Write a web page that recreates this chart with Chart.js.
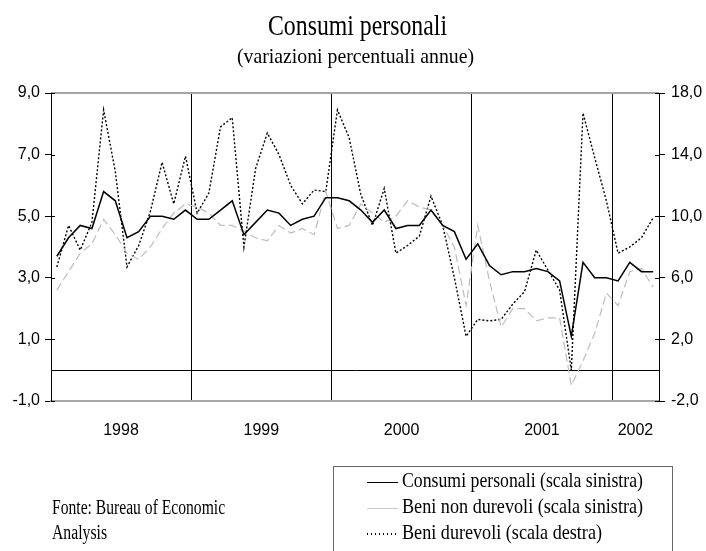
<!DOCTYPE html>
<html lang="it">
<head>
<meta charset="UTF-8">
<title>Consumi personali</title>
<script src="https://cdn.jsdelivr.net/npm/chart.js"></script>
<style>
    body { margin: 0; background: #fff; }
    #wrap { position: relative; width: 706px; height: 551px; overflow: hidden; background: #fff; }
    #grafico { position: absolute; left: 0; top: 0; }
    .txt {
        position: absolute;
        display: inline-block;
        font-family: 'Liberation Serif', 'Times New Roman', serif;
        color: #000;
        white-space: nowrap;
        transform-origin: 0 0;
    }
    #legenda {
        position: absolute; left: 333px; top: 466px; width: 340px; height: 100px;
        border: 1px solid #666; box-sizing: border-box;
    }
    .campione { position: absolute; left: 367px; width: 31px; }
</style>
</head>
<body>
<div id="wrap">
    <canvas id="grafico" width="706" height="551"></canvas>

    <span class="txt fit" data-x="268" data-y="10.7" data-w="179" style="font-size:29px;line-height:29px">Consumi personali</span>
    <span class="txt fit" data-x="237" data-y="45.7" data-w="237" style="font-size:21px;line-height:21px">(variazioni percentuali annue)</span>

    <span class="txt fit" data-x="52" data-y="496.5" data-w="173" style="font-size:20px;line-height:20px">Fonte: Bureau of Economic</span>
    <span class="txt fit" data-x="52" data-y="521.5" data-w="55" style="font-size:20px;line-height:20px">Analysis</span>

    <div id="legenda"></div>
    <div class="campione" style="top:482px;height:0;border-top:1.5px solid #000"></div>
    <div class="campione" style="top:508px;height:0;border-top:1px solid #c8c8c8"></div>
    <div class="campione" style="top:533px;height:1.5px;background:repeating-linear-gradient(to right,#000 0 1.5px,transparent 1.5px 4px)"></div>
    <span class="txt fit" data-x="402" data-y="470.4" data-w="241" style="font-size:21px;line-height:21px">Consumi personali (scala sinistra)</span>
    <span class="txt fit" data-x="402" data-y="495.9" data-w="241" style="font-size:21px;line-height:21px">Beni non durevoli (scala sinistra)</span>
    <span class="txt fit" data-x="402" data-y="522.4" data-w="200" style="font-size:21px;line-height:21px">Beni durevoli (scala destra)</span>
</div>

<script>
    // mesi gen 1998 - apr 2002
    const categorie = [
        'gen 98','feb 98','mar 98','apr 98','mag 98','giu 98','lug 98','ago 98','set 98','ott 98','nov 98','dic 98',
        'gen 99','feb 99','mar 99','apr 99','mag 99','giu 99','lug 99','ago 99','set 99','ott 99','nov 99','dic 99',
        'gen 00','feb 00','mar 00','apr 00','mag 00','giu 00','lug 00','ago 00','set 00','ott 00','nov 00','dic 00',
        'gen 01','feb 01','mar 01','apr 01','mag 01','giu 01','lug 01','ago 01','set 01','ott 01','nov 01','dic 01',
        'gen 02','feb 02','mar 02','apr 02'
    ];

    // scala sinistra
    const consumiPersonali = [
        3.7, 4.3, 4.7, 4.6, 5.8, 5.5, 4.3, 4.5, 5.0, 5.0, 4.9, 5.2,
        4.9, 4.9, 5.2, 5.5, 4.4, 4.8, 5.2, 5.1, 4.7, 4.9, 5.0, 5.6,
        5.6, 5.5, 5.2, 4.8, 5.2, 4.6, 4.7, 4.7, 5.2, 4.7, 4.5, 3.6,
        4.1, 3.4, 3.1, 3.2, 3.2, 3.3, 3.2, 2.9, 1.1, 3.5, 3.0, 3.0,
        2.9, 3.5, 3.2, 3.2
    ];
    const beniNonDurevoli = [
        2.6, 3.2, 3.8, 4.1, 4.9, 4.4, 3.8, 3.6, 4.0, 4.6, 5.1, 5.4,
        5.3, 5.1, 4.7, 4.7, 4.5, 4.3, 4.2, 4.7, 4.45, 4.6, 4.4, 5.8,
        4.6, 4.7, 5.4, 5.1, 4.8, 5.0, 5.5, 5.3, 5.2, 4.7, 4.0, 2.1,
        4.7, 2.9, 1.4, 2.0, 2.0, 1.6, 1.7, 1.7, -0.5, 0.3, 1.2, 2.5,
        2.1, 3.2, 3.3, 2.7
    ];
    // scala destra
    const beniDurevoli = [
        6.7, 9.4, 7.8, 9.6, 16.9, 12.9, 6.7, 8.1, 10.3, 13.5, 10.8, 13.9,
        10.2, 11.5, 15.8, 16.4, 8.0, 13.1, 15.4, 14.0, 12.0, 10.8, 11.7, 11.6,
        16.9, 15.1, 11.4, 9.4, 11.8, 7.6, 8.1, 8.7, 11.3, 9.4, 6.0, 2.2,
        3.3, 3.2, 3.3, 4.3, 5.1, 7.8, 6.5, 5.2, 0.0, 16.7, 13.8, 11.0,
        7.6, 8.0, 8.6, 9.9
    ];

    const anni = ['1998', '1999', '2000', '2001', '2002'];
    const anniIndice = [6, 18, 30, 42, 50];
    const tickSinistra = [-1, 0, 1, 3, 5, 7, 9];
    const tickDestra = [-2, 2, 6, 10, 14, 18];

    const fmt = v => v.toFixed(1).replace('.', ',');
    const nero = '#000000';
    const vuoto = 'rgba(0,0,0,0)';
    const fontNum = { family: "'Liberation Sans', Arial, sans-serif", size: 16 };

    // bordo superiore grigio e tacche interne agli assi
    const cornice = {
        id: 'cornice',
        afterDraw(chart) {
            const { ctx, chartArea: a, scales } = chart;
            ctx.save();
            ctx.strokeStyle = '#a6a6a6';
            ctx.lineWidth = 2;
            ctx.beginPath();
            ctx.moveTo(a.left, a.top);
            ctx.lineTo(a.right, a.top);
            ctx.stroke();
            ctx.strokeStyle = nero;
            ctx.lineWidth = 1;
            ctx.beginPath();
            tickSinistra.filter(v => v !== 0).forEach(v => {
                const y = Math.round(scales.y.getPixelForValue(v)) + 0.5;
                ctx.moveTo(a.left, y); ctx.lineTo(a.left + 4, y);
            });
            tickDestra.forEach(v => {
                const y = Math.round(scales.y1.getPixelForValue(v)) + 0.5;
                ctx.moveTo(a.right - 4, y); ctx.lineTo(a.right, y);
            });
            ctx.stroke();
            ctx.restore();
        }
    };

    new Chart(document.getElementById('grafico'), {
        type: 'line',
        data: {
            labels: categorie,
            datasets: [
                {
                    label: 'Consumi personali (scala sinistra)',
                    data: consumiPersonali,
                    yAxisID: 'y',
                    borderColor: nero,
                    borderWidth: 1.5
                },
                {
                    label: 'Beni non durevoli (scala sinistra)',
                    data: beniNonDurevoli,
                    yAxisID: 'y',
                    borderColor: '#bdbdbd',
                    borderWidth: 1.2,
                    borderDash: [8, 4]
                },
                {
                    label: 'Beni durevoli (scala destra)',
                    data: beniDurevoli,
                    yAxisID: 'y1',
                    borderColor: nero,
                    borderWidth: 1.4,
                    borderDash: [2, 2]
                }
            ]
        },
        options: {
            responsive: false,
            animation: false,
            devicePixelRatio: 1,
            elements: { point: { radius: 0 }, line: { tension: 0, fill: false } },
            layout: { padding: { top: 93, left: 0, right: 0, bottom: 0 } },
            plugins: { legend: { display: false }, tooltip: { enabled: false } },
            scales: {
                x: {
                    type: 'category',
                    offset: true,
                    afterFit: s => { s.height = 150; },
                    grid: {
                        offset: true,
                        drawTicks: false,
                        color: c => (c.index > 0 && c.index % 12 === 0) ? nero : vuoto,
                        lineWidth: 1
                    },
                    border: { color: '#a6a6a6', width: 2 },
                    ticks: {
                        autoSkip: false,
                        maxRotation: 0,
                        padding: 20,
                        labelOffset: -6,
                        color: nero,
                        font: fontNum,
                        callback: (v, i) => {
                            const k = anniIndice.indexOf(i);
                            return k >= 0 ? anni[k] : '';
                        }
                    }
                },
                y: {
                    position: 'left',
                    min: -1,
                    max: 9,
                    afterFit: s => { s.width = 51; },
                    afterBuildTicks: s => { s.ticks = tickSinistra.map(v => ({ value: v })); },
                    grid: {
                        color: c => (c.tick && c.tick.value === 0) ? nero : vuoto,
                        tickColor: c => (c.tick && c.tick.value === 0) ? vuoto : nero,
                        tickLength: 6
                    },
                    border: { color: nero, width: 1 },
                    ticks: {
                        padding: 5,
                        color: nero,
                        font: fontNum,
                        callback: v => v === 0 ? '' : fmt(v)
                    }
                },
                y1: {
                    position: 'right',
                    min: -2,
                    max: 18,
                    afterFit: s => { s.width = 47; },
                    afterBuildTicks: s => { s.ticks = tickDestra.map(v => ({ value: v })); },
                    grid: { drawOnChartArea: false, tickColor: nero, tickLength: 6 },
                    border: { color: nero, width: 1 },
                    ticks: {
                        padding: 6,
                        color: nero,
                        font: fontNum,
                        callback: v => fmt(v)
                    }
                }
            }
        },
        plugins: [cornice]
    });

    // testi in stile condensato: larghezza adattata a quella del riferimento
    document.querySelectorAll('.fit').forEach(el => {
        el.style.left = el.dataset.x + 'px';
        el.style.top = el.dataset.y + 'px';
        const w = el.getBoundingClientRect().width;
        el.style.transform = 'scaleX(' + (parseFloat(el.dataset.w) / w).toFixed(3) + ')';
    });
</script>
</body>
</html>
